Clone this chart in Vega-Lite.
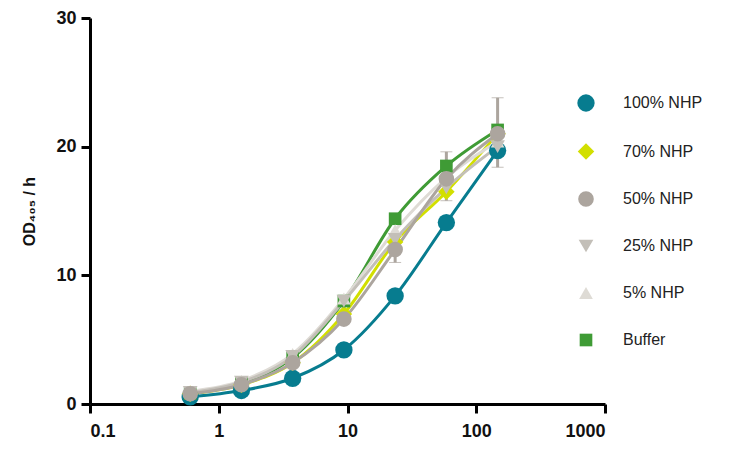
{
  "$schema": "https://vega.github.io/schema/vega-lite/v6.json",
  "autosize": "none",
  "width": 515,
  "height": 386,
  "padding": {"left": 90, "top": 18, "right": 141, "bottom": 47},
  "background": "white",
  "config": {"view": {"stroke": null}, "font": "Liberation Sans"},
  "datasets": {
    "pts": [
      {"series": "100% NHP", "x": 0.6, "y": 0.55}, {"series": "100% NHP", "x": 1.5, "y": 1.05}, {"series": "100% NHP", "x": 3.75, "y": 2.0}, {"series": "100% NHP", "x": 9.375, "y": 4.2}, {"series": "100% NHP", "x": 23.44, "y": 8.4}, {"series": "100% NHP", "x": 58.6, "y": 14.1}, {"series": "100% NHP", "x": 146.5, "y": 19.7},
      {"series": "70% NHP", "x": 0.6, "y": 0.8}, {"series": "70% NHP", "x": 1.5, "y": 1.5}, {"series": "70% NHP", "x": 3.75, "y": 3.2}, {"series": "70% NHP", "x": 9.375, "y": 7.0}, {"series": "70% NHP", "x": 23.44, "y": 12.6}, {"series": "70% NHP", "x": 58.6, "y": 16.5}, {"series": "70% NHP", "x": 146.5, "y": 21.0},
      {"series": "Buffer", "x": 0.6, "y": 0.8}, {"series": "Buffer", "x": 1.5, "y": 1.6}, {"series": "Buffer", "x": 3.75, "y": 3.6}, {"series": "Buffer", "x": 9.375, "y": 8.0}, {"series": "Buffer", "x": 23.44, "y": 14.4}, {"series": "Buffer", "x": 58.6, "y": 18.5}, {"series": "Buffer", "x": 146.5, "y": 21.3},
      {"series": "5% NHP", "x": 0.6, "y": 1.0}, {"series": "5% NHP", "x": 1.5, "y": 1.8}, {"series": "5% NHP", "x": 3.75, "y": 3.9}, {"series": "5% NHP", "x": 9.375, "y": 8.2}, {"series": "5% NHP", "x": 23.44, "y": 13.5}, {"series": "5% NHP", "x": 58.6, "y": 17.6}, {"series": "5% NHP", "x": 146.5, "y": 20.4},
      {"series": "25% NHP", "x": 0.6, "y": 0.9}, {"series": "25% NHP", "x": 1.5, "y": 1.7}, {"series": "25% NHP", "x": 3.75, "y": 3.7}, {"series": "25% NHP", "x": 9.375, "y": 8.0}, {"series": "25% NHP", "x": 23.44, "y": 12.8}, {"series": "25% NHP", "x": 58.6, "y": 16.8}, {"series": "25% NHP", "x": 146.5, "y": 20.0},
      {"series": "50% NHP", "x": 0.6, "y": 0.8}, {"series": "50% NHP", "x": 1.5, "y": 1.5}, {"series": "50% NHP", "x": 3.75, "y": 3.2}, {"series": "50% NHP", "x": 9.375, "y": 6.6}, {"series": "50% NHP", "x": 23.44, "y": 12.0}, {"series": "50% NHP", "x": 58.6, "y": 17.5}, {"series": "50% NHP", "x": 146.5, "y": 21.0}
    ],
    "err": [
      {"series": "50% NHP", "x": 23.44, "lo": 11.0, "hi": 12.6},
      {"series": "50% NHP", "x": 58.6, "lo": 15.8, "hi": 19.6},
      {"series": "50% NHP", "x": 146.5, "lo": 18.4, "hi": 23.8}
    ]
  },
  "encoding": {
    "x": {"field": "x", "type": "quantitative",
      "scale": {"type": "log", "domain": [0.1, 1000], "nice": false},
      "axis": {"title": null, "values": [0.1, 1, 10, 100, 1000], "format": "~g", "grid": false,
        "domainColor": "black", "domainWidth": 3, "tickColor": "black", "tickWidth": 3, "tickSize": 9,
        "labelFont": "Liberation Sans", "labelFontWeight": "bold", "labelFontSize": 18, "labelColor": "#111", "labelPadding": 9}},
    "y": {"field": "y", "type": "quantitative",
      "scale": {"domain": [0, 30], "nice": false},
      "axis": {"title": "OD₄₀₅ / h", "values": [0, 10, 20, 30], "grid": false,
        "domainColor": "black", "domainWidth": 3, "tickColor": "black", "tickWidth": 3, "tickSize": 9,
        "labelFont": "Liberation Sans", "labelFontWeight": "bold", "labelFontSize": 18, "labelColor": "#111", "labelPadding": 5,
        "titleFont": "Liberation Sans", "titleFontWeight": "bold", "titleFontSize": 16, "titleColor": "#111", "titlePadding": 18}}
  },
  "layer": [
    {
      "data": {"name": "pts"},
      "mark": {"type": "line", "interpolate": "monotone", "strokeWidth": 3},
      "encoding": {
        "color": {"field": "series", "type": "nominal",
          "scale": {"domain": ["100% NHP", "70% NHP", "50% NHP", "25% NHP", "5% NHP", "Buffer"],
                    "range": ["#077c8f", "#d2df00", "#aca59e", "#c3bfb8", "#dedbd5", "#3f9b35"]}},
        "detail": {"field": "series"},
        "order": {"field": "x"}
      }
    },
    {
      "data": {"name": "err"},
      "mark": {"type": "errorbar", "ticks": {"size": 12, "strokeWidth": 3}, "rule": {"strokeWidth": 3}, "color": "#aca59e"},
      "encoding": {
        "y": {"field": "lo", "type": "quantitative"},
        "y2": {"field": "hi"}
      }
    },
    {
      "data": {"name": "pts"},
      "mark": {"type": "point", "filled": true, "opacity": 1},
      "encoding": {
        "color": {"field": "series", "type": "nominal",
          "scale": {"domain": ["100% NHP", "70% NHP", "50% NHP", "25% NHP", "5% NHP", "Buffer"],
                    "range": ["#077c8f", "#d2df00", "#aca59e", "#c3bfb8", "#dedbd5", "#3f9b35"]},
          "legend": {"title": null, "orient": "none", "legendX": 487, "legendY": 76,
            "symbolSize": 220, "symbolStrokeWidth": 0, "labelFontSize": 16, "labelFont": "Liberation Sans", "labelColor": "#222",
            "labelOffset": 28, "rowPadding": 31}},
        "shape": {"field": "series", "type": "nominal",
          "scale": {"domain": ["100% NHP", "70% NHP", "50% NHP", "25% NHP", "5% NHP", "Buffer"],
                    "range": ["circle", "diamond", "circle", "triangle-down", "triangle-up", "square"]},
          "legend": {"title": null, "orient": "none", "legendX": 487, "legendY": 76,
            "symbolSize": 220, "symbolStrokeWidth": 0, "labelFontSize": 16, "labelFont": "Liberation Sans", "labelColor": "#222",
            "labelOffset": 28, "rowPadding": 31}},
        "size": {"field": "series", "type": "nominal", "legend": null,
          "scale": {"domain": ["100% NHP", "70% NHP", "50% NHP", "25% NHP", "5% NHP", "Buffer"],
                    "range": [300, 160, 200, 180, 180, 200]}}
      }
    }
  ]
}
